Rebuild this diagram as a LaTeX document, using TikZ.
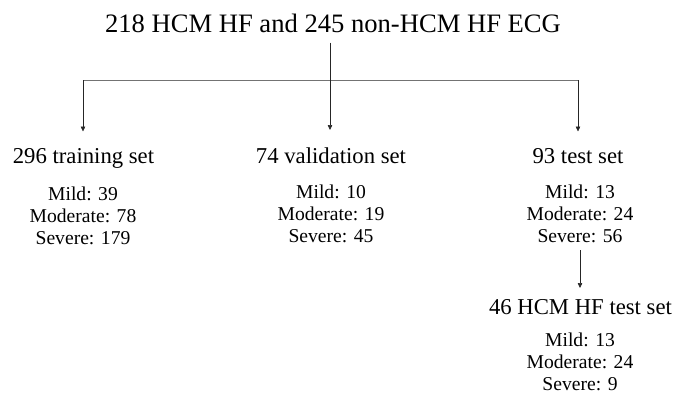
\documentclass[tikz,border=0pt]{standalone}
\usepackage{fontspec}
\setmainfont{Liberation Serif}
\usetikzlibrary{arrows.meta}
\tikzset{
  ttl/.style={inner sep=0pt, anchor=base, font=\fontsize{26.6}{30}\selectfont},
  hd/.style={inner sep=0pt, anchor=base, font=\fontsize{22.7}{26}\selectfont},
  sub/.style={inner sep=0pt, anchor=base, font=\fontsize{19.6}{22}\selectfont},
  arr/.style={draw=black!85, line width=0.6pt, -{Triangle[length=5pt,width=4.5pt]}},
  conn/.style={draw=black!55, line width=0.6pt},
}
\begin{document}
\begin{tikzpicture}[x=1pt,y=-1pt]
\useasboundingbox (0,0) rectangle (686,392);
% title
\node[ttl] (title) at (333,32) {218 HCM HF and 245 non-HCM HF ECG};
% coordinates for connectors
\coordinate (tstart) at (330,42.7);
\coordinate (bl) at (83,80);
\coordinate (br) at (578,80);
\coordinate (tipL) at (83,131.5);
\coordinate (tipM) at (330,130);
\coordinate (tipR) at (578,131.5);
\coordinate (lstart) at (580,250);
\coordinate (tipH) at (580,288);
% headings
\node[hd] (train) at (83.5,163.5) {296 training set};
\node[hd] (valid) at (331,163) {74 validation set};
\node[hd] (test) at (578,163) {93 test set};
\node[hd] (hcm) at (580.5,314) {46 HCM HF test set};
% training
\node[sub] (trM) at (83,200.5) {Mild: 39};
\node[sub] (trMo) at (83,222.5) {Moderate: 78};
\node[sub] (trS) at (83,244.5) {Severe: 179};
% validation
\node[sub] (vaM) at (331,198.5) {Mild: 10};
\node[sub] (vaMo) at (331,220.5) {Moderate: 19};
\node[sub] (vaS) at (331,242.5) {Severe: 45};
% test
\node[sub] (teM) at (580,198.5) {Mild: 13};
\node[sub] (teMo) at (580,220.5) {Moderate: 24};
\node[sub] (teS) at (580,242.5) {Severe: 56};
% HCM test
\node[sub] (hcM) at (580,346) {Mild: 13};
\node[sub] (hcMo) at (580,368) {Moderate: 24};
\node[sub] (hcS) at (580,390) {Severe: 9};
% connectors
\draw[conn] (bl) -- (br);
\draw[arr] (tstart) -- (tipM);
\draw[arr] (bl) -- (tipL);
\draw[arr] (br) -- (tipR);
\draw[arr] (lstart) -- (tipH);
\end{tikzpicture}
\end{document}
